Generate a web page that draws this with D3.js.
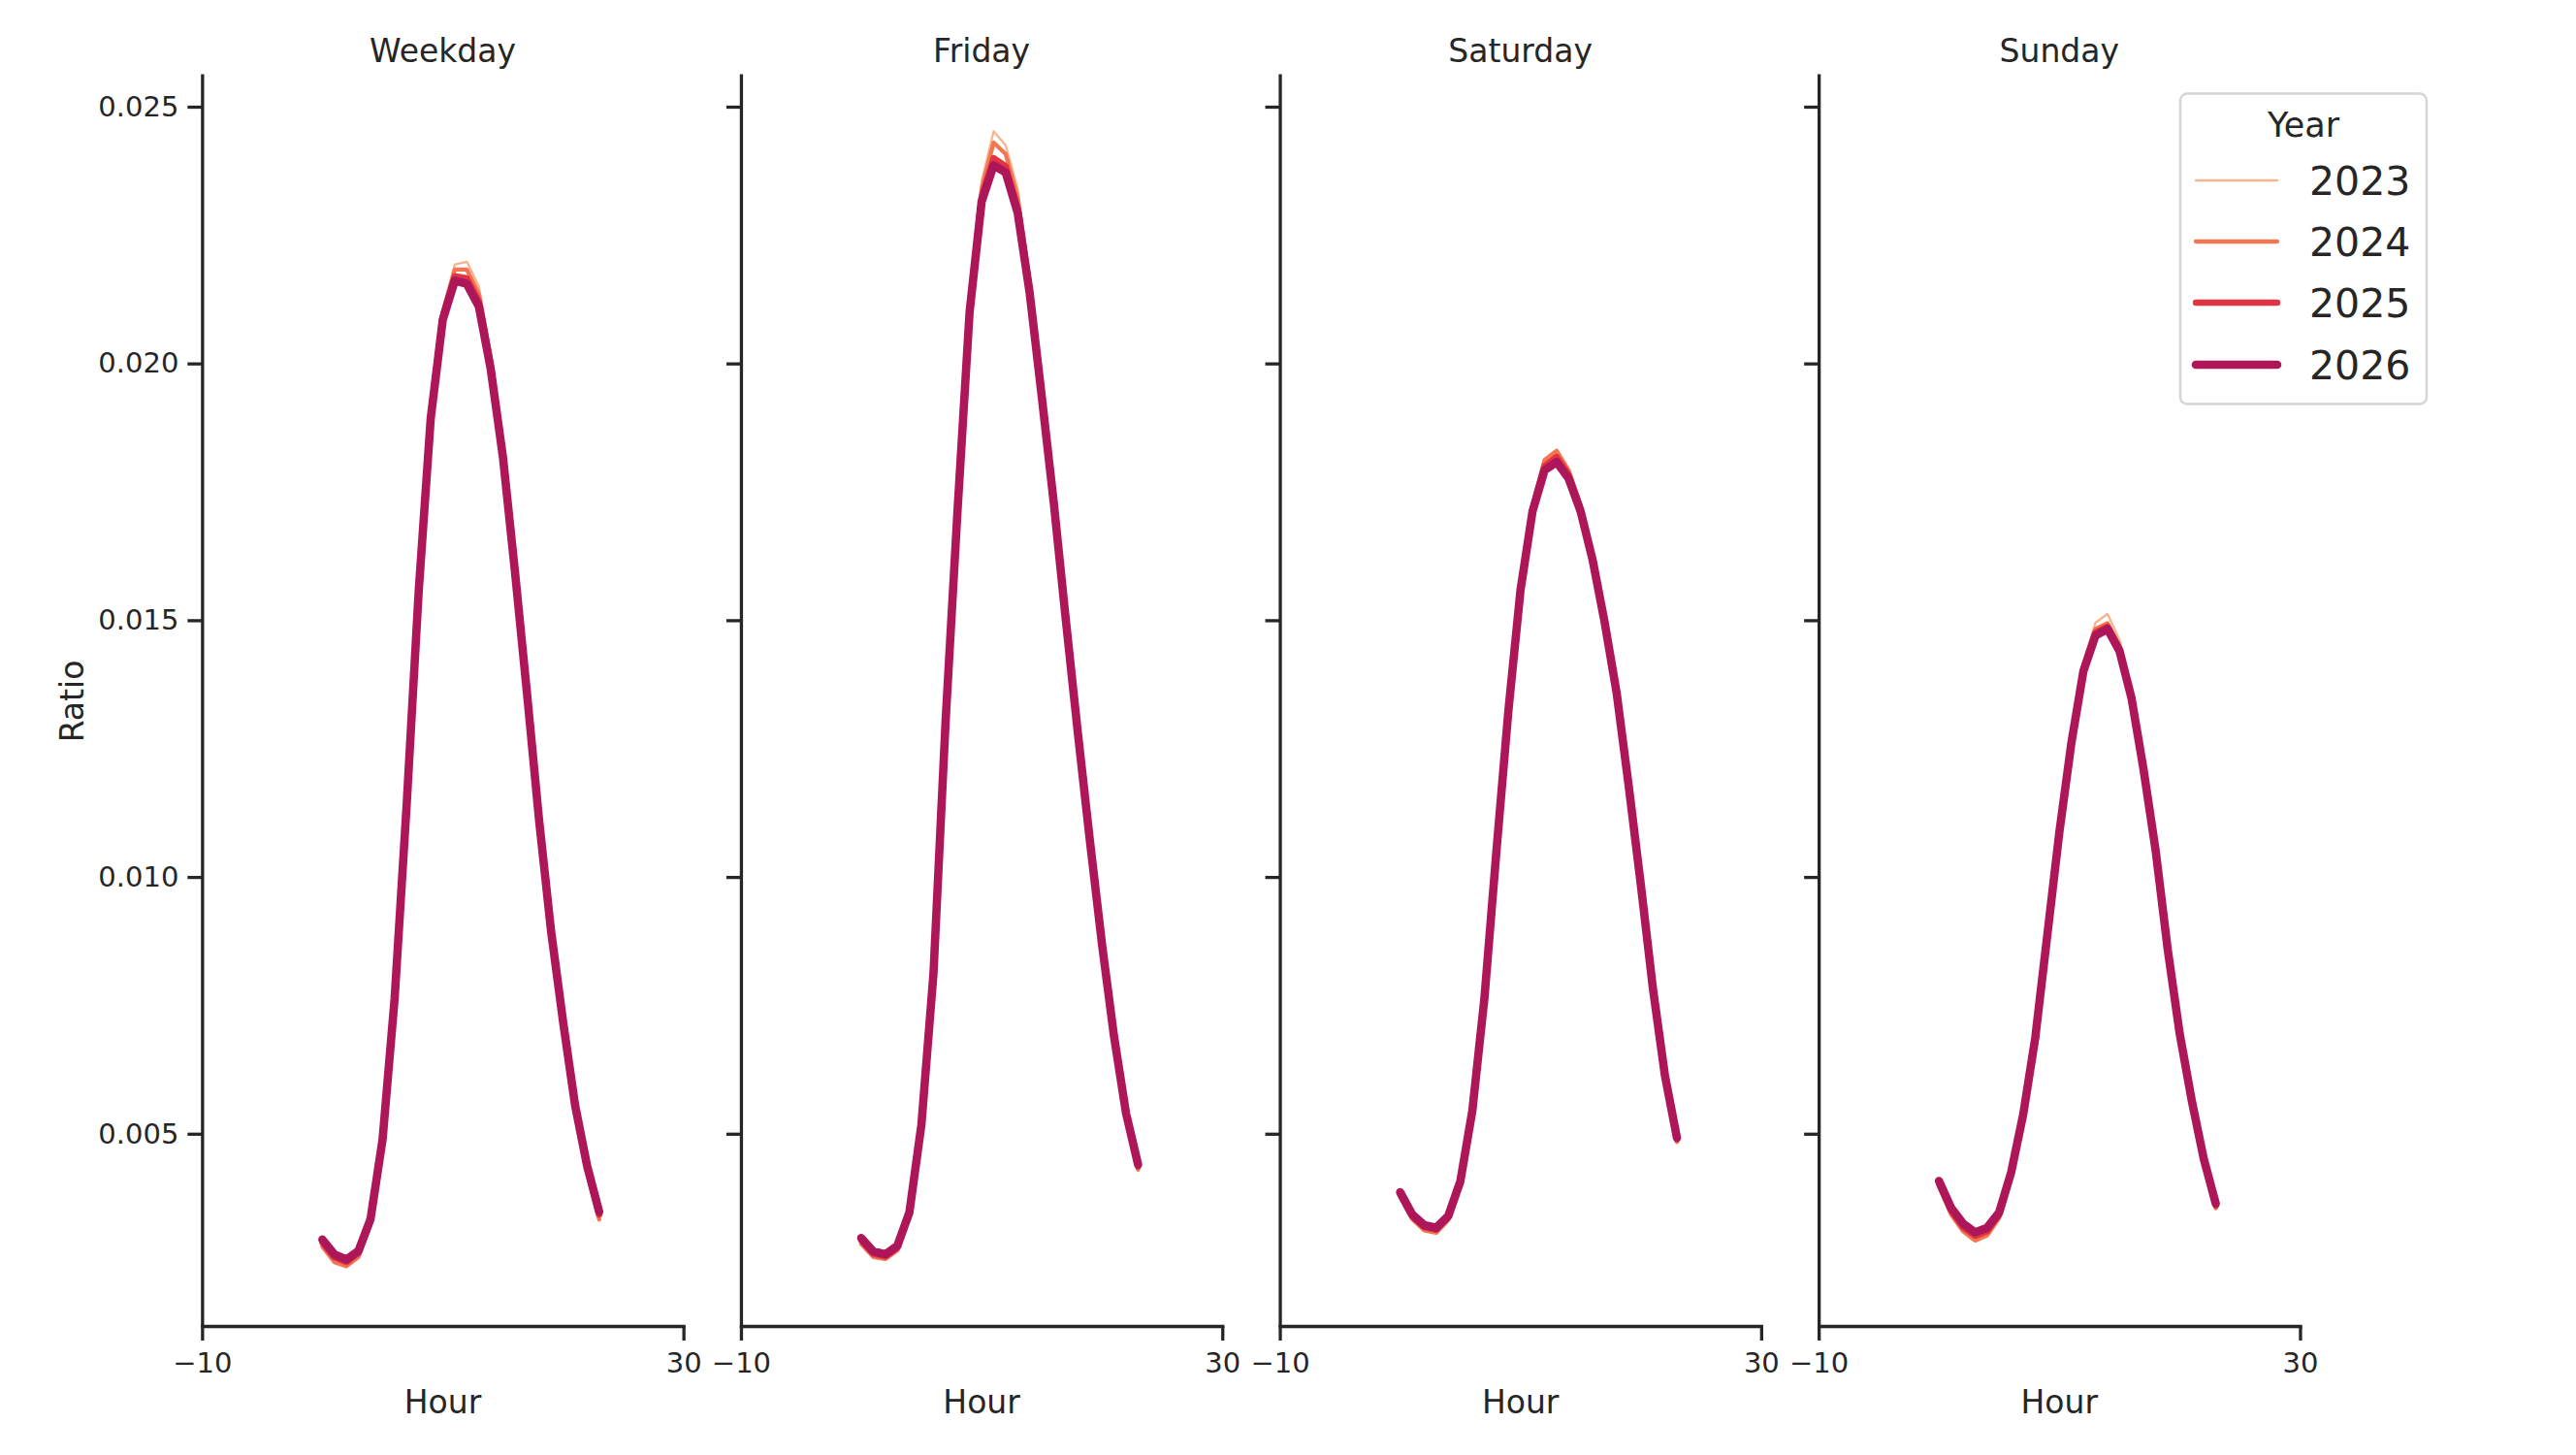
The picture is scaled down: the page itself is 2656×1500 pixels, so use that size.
<!DOCTYPE html>
<html><head><meta charset="utf-8">
<script src="https://cdn.jsdelivr.net/npm/d3@7"></script>
<style>
body{margin:0;background:#fff;}
text{font-family:"DejaVu Sans",sans-serif;fill:#262626;}
</style>
</head><body><svg id="c" width="2656" height="1500"></svg>
<script>
const facets = ["Weekday","Friday","Saturday","Sunday"];
const years = ["2023","2024","2025","2026"];
const hours = [0,1,2,3,4,5,6,7,8,9,10,11,12,13,14,15,16,17,18,19,20,21,22,23];
const yTicks = [0.005,0.010,0.015,0.020,0.025];
const xTicks = [-10,30];
const colors = ["#f6b48f","#f37651","#e13342","#ad1759"];

const weekday_2023 = [0.00283,0.00253,0.00245,0.00262,0.00327,0.00485,0.00762,0.01145,0.01568,0.01910,0.02105,0.02193,0.02198,0.02150,0.02020,0.01836,0.01603,0.01358,0.01108,0.00889,0.00710,0.00547,0.00428,0.00337];
const weekday_2024 = [0.00280,0.00250,0.00242,0.00260,0.00325,0.00483,0.00760,0.01142,0.01565,0.01905,0.02100,0.02183,0.02183,0.02135,0.02008,0.01830,0.01600,0.01357,0.01107,0.00888,0.00708,0.00545,0.00425,0.00333];
const weekday_2025 = [0.00288,0.00259,0.00250,0.00268,0.00331,0.00487,0.00762,0.01141,0.01560,0.01898,0.02092,0.02170,0.02166,0.02121,0.01996,0.01822,0.01597,0.01357,0.01110,0.00892,0.00714,0.00551,0.00432,0.00342];
const weekday_2026 = [0.00294,0.00265,0.00255,0.00272,0.00334,0.00489,0.00763,0.01140,0.01556,0.01893,0.02085,0.02161,0.02155,0.02111,0.01987,0.01818,0.01595,0.01358,0.01112,0.00895,0.00718,0.00555,0.00437,0.00348];

const friday_2023 = [0.00288,0.00262,0.00258,0.00275,0.00342,0.00515,0.00812,0.01290,0.01722,0.02118,0.02355,0.02452,0.02425,0.02340,0.02168,0.01952,0.01736,0.01503,0.01282,0.01068,0.00866,0.00685,0.00535,0.00433];
const friday_2024 = [0.00285,0.00260,0.00256,0.00273,0.00340,0.00513,0.00810,0.01288,0.01720,0.02112,0.02340,0.02430,0.02408,0.02322,0.02155,0.01946,0.01733,0.01502,0.01281,0.01068,0.00866,0.00685,0.00533,0.00430];
const friday_2025 = [0.00292,0.00266,0.00261,0.00278,0.00344,0.00516,0.00811,0.01284,0.01716,0.02104,0.02325,0.02400,0.02384,0.02302,0.02142,0.01938,0.01730,0.01501,0.01280,0.01069,0.00868,0.00688,0.00537,0.00436];
const friday_2026 = [0.00297,0.00271,0.00265,0.00282,0.00347,0.00518,0.00812,0.01300,0.01714,0.02100,0.02315,0.02386,0.02372,0.02293,0.02136,0.01935,0.01728,0.01500,0.01280,0.01070,0.00870,0.00690,0.00540,0.00440];

const saturday_2023 = [0.00380,0.00336,0.00314,0.00309,0.00334,0.00402,0.00541,0.00760,0.01049,0.01326,0.01562,0.01722,0.01808,0.01826,0.01790,0.01722,0.01622,0.01497,0.01357,0.01175,0.00983,0.00781,0.00610,0.00487];
const saturday_2024 = [0.00378,0.00334,0.00312,0.00307,0.00332,0.00401,0.00540,0.00760,0.01050,0.01328,0.01564,0.01724,0.01812,0.01830,0.01792,0.01724,0.01624,0.01498,0.01357,0.01174,0.00982,0.00780,0.00608,0.00484];
const saturday_2025 = [0.00382,0.00339,0.00318,0.00313,0.00337,0.00404,0.00543,0.00762,0.01050,0.01326,0.01560,0.01716,0.01800,0.01818,0.01783,0.01716,0.01620,0.01496,0.01357,0.01175,0.00984,0.00782,0.00612,0.00489];
const saturday_2026 = [0.00386,0.00343,0.00322,0.00317,0.00340,0.00407,0.00545,0.00763,0.01050,0.01325,0.01558,0.01712,0.01792,0.01808,0.01776,0.01712,0.01617,0.01495,0.01357,0.01176,0.00985,0.00784,0.00614,0.00492];

const sunday_2023 = [0.00400,0.00345,0.00312,0.00294,0.00304,0.00337,0.00418,0.00534,0.00686,0.00889,0.01093,0.01272,0.01420,0.01495,0.01512,0.01462,0.01360,0.01214,0.01053,0.00858,0.00692,0.00561,0.00446,0.00356];
const sunday_2024 = [0.00398,0.00343,0.00310,0.00292,0.00302,0.00336,0.00417,0.00533,0.00686,0.00889,0.01092,0.01268,0.01412,0.01483,0.01494,0.01450,0.01353,0.01211,0.01052,0.00858,0.00692,0.00561,0.00445,0.00355];
const sunday_2025 = [0.00403,0.00350,0.00318,0.00301,0.00310,0.00342,0.00421,0.00536,0.00687,0.00888,0.01089,0.01264,0.01405,0.01476,0.01488,0.01444,0.01350,0.01210,0.01052,0.00859,0.00694,0.00563,0.00448,0.00360];
const sunday_2026 = [0.00408,0.00356,0.00325,0.00308,0.00317,0.00347,0.00425,0.00538,0.00687,0.00887,0.01087,0.01261,0.01401,0.01470,0.01483,0.01440,0.01348,0.01209,0.01052,0.00860,0.00695,0.00565,0.00451,0.00364];

const seriesByFacet = [
  [weekday_2023, weekday_2024, weekday_2025, weekday_2026],
  [friday_2023, friday_2024, friday_2025, friday_2026],
  [saturday_2023, saturday_2024, saturday_2025, saturday_2026],
  [sunday_2023, sunday_2024, sunday_2025, sunday_2026]
];
const widths = [2.3, 4.3, 6.4, 8.6];

const svg = d3.select("#c");
const plotTop = 76, plotBottom = 1367, W = 496.3, step = 555.6, left0 = 208.35;
const ink = "#262626";

const y = d3.scaleLinear().domain([0.001256, 0.025642]).range([plotBottom, plotTop]);

facets.forEach((name, fi) => {
  const L = left0 + fi * step;
  const x = d3.scaleLinear().domain([-10, 30]).range([L, L + W]);
  const g = svg.append("g");

  const line = d3.line().x((d, i) => x(hours[i])).y(d => y(d));
  seriesByFacet[fi].forEach((vals, yi) => {
    g.append("path").datum(vals)
      .attr("d", line)
      .attr("fill", "none")
      .attr("stroke", colors[yi])
      .attr("stroke-width", widths[yi])
      .attr("stroke-linejoin", "round")
      .attr("stroke-linecap", "round");
  });

  const ya = d3.axisLeft(y).tickValues(yTicks).tickSize(15).tickSizeOuter(0).tickPadding(9)
    .tickFormat(fi === 0 ? d3.format(".3f") : () => "");
  const yg = svg.append("g").attr("transform", `translate(${L},0)`).call(ya);
  yg.attr("font-size", 29).attr("font-family", "DejaVu Sans");
  yg.selectAll("line").attr("stroke", ink).attr("stroke-width", 3.3);
  yg.select(".domain").attr("stroke", ink).attr("stroke-width", 3.3);
  yg.selectAll("text").attr("fill", ink);

  const xa = d3.axisBottom(x).tickValues(xTicks).tickSize(15).tickSizeOuter(0).tickPadding(12)
    .tickFormat(d3.format("d"));
  const xg = svg.append("g").attr("transform", `translate(0,${plotBottom})`).call(xa);
  xg.attr("font-size", 29).attr("font-family", "DejaVu Sans");
  xg.selectAll("line").attr("stroke", ink).attr("stroke-width", 3.3);
  xg.select(".domain").attr("stroke", ink).attr("stroke-width", 3.3).attr("stroke-linecap", "square");
  xg.selectAll("text").attr("fill", ink);

  svg.append("text").attr("x", L + W / 2).attr("y", 64)
    .attr("text-anchor", "middle").attr("font-size", 33).text(name);
  svg.append("text").attr("x", L + W / 2).attr("y", 1457)
    .attr("text-anchor", "middle").attr("font-size", 33).text("Hour");
});

svg.append("text").attr("transform", "translate(86,723) rotate(-90)")
  .attr("text-anchor", "middle").attr("font-size", 33).text("Ratio");

const lg = svg.append("g");
lg.append("rect").attr("x", 2248).attr("y", 96.5).attr("width", 254).attr("height", 320)
  .attr("rx", 7).attr("fill", "#ffffff").attr("fill-opacity", 0.8)
  .attr("stroke", "#d5d5d5").attr("stroke-width", 2.5);
lg.append("text").attr("x", 2375).attr("y", 141).attr("text-anchor", "middle")
  .attr("font-size", 35).text("Year");
const legY = [186, 249, 312, 376];
years.forEach((yr, i) => {
  lg.append("line").attr("x1", 2264).attr("x2", 2348).attr("y1", legY[i]).attr("y2", legY[i])
    .attr("stroke", colors[i]).attr("stroke-width", widths[i]).attr("stroke-linecap", "round");
  lg.append("text").attr("x", 2381).attr("y", legY[i]).attr("dy", "0.36em")
    .attr("font-size", 41).text(yr);
});
</script>
</body></html>
